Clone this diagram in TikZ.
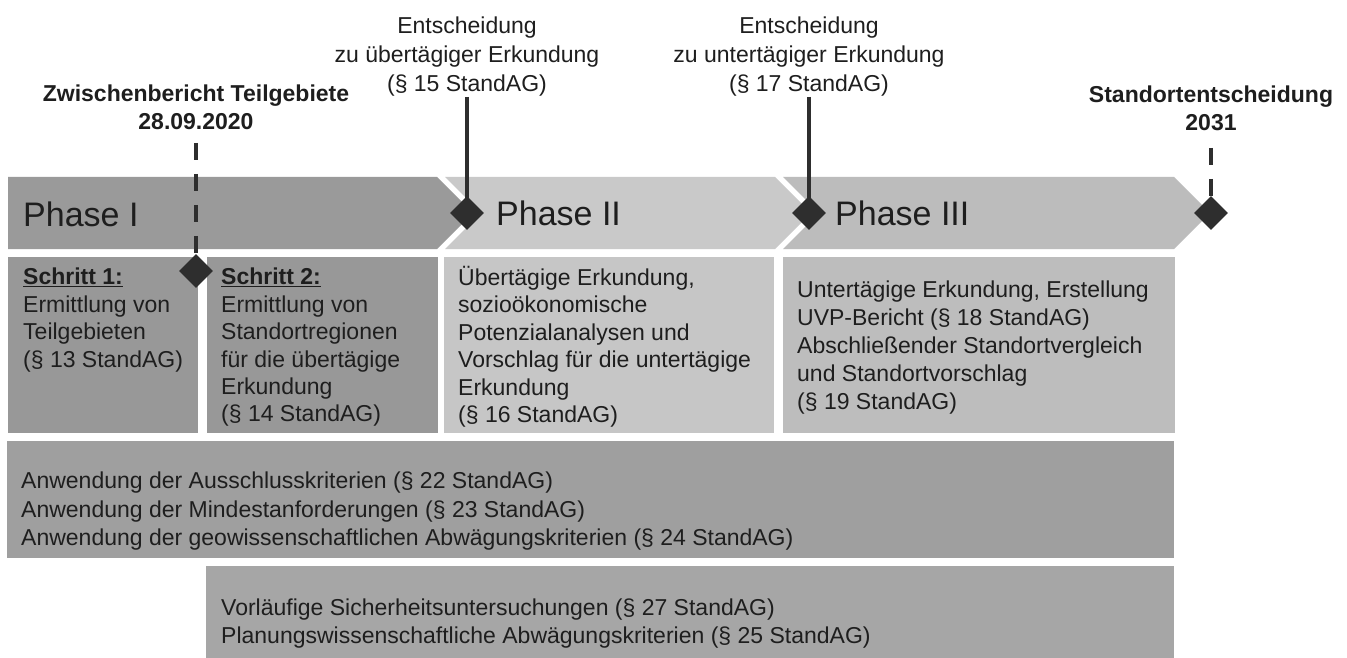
\documentclass[tikz,border=0pt]{standalone}
\usepackage{fontspec}
\setmainfont{Liberation Sans}
\usetikzlibrary{positioning,shapes.geometric}

\definecolor{inktext}{HTML}{1E1E1E}
\definecolor{inkdark}{HTML}{2E2E2E}
\definecolor{phaseone}{HTML}{9A9A9A}
\definecolor{phasetwo}{HTML}{C9C9C9}
\definecolor{phasethree}{HTML}{BCBCBC}
\definecolor{stepgray}{HTML}{989898}
\definecolor{twogray}{HTML}{C6C6C6}
\definecolor{threegray}{HTML}{BDBDBD}
\definecolor{critgray}{HTML}{9F9F9F}
\definecolor{safegray}{HTML}{A6A6A6}

\begin{document}
\begin{tikzpicture} [
	x = 1pt, y = -1pt,
	every node/.style = {inner sep=0pt, text=inktext},
	box/.style = {anchor=north west},
	body/.style = {align=left, font=\fontsize{23}{27.4}\selectfont},
	phasetitle/.style = {anchor=west, font=\fontsize{34}{40}\selectfont},
	toplabel/.style = {align=center, font=\fontsize{23}{29}\selectfont},
	keylabel/.style = {align=center, font=\bfseries\fontsize{23}{28}\selectfont},
	gate/.style = {diamond, fill=inkdark, minimum size=34pt},
	decision/.style = {draw=inkdark, line width=4pt, shorten >=-8pt},
	milestone/.style = {decision, dash pattern=on 17pt off 14pt}
]
\fill[white] (0,0) rectangle (1347,658);
\useasboundingbox (0,0) rectangle (1347,658);

\fill[phaseone] (8,177) -- (437,177) -- (473,213) -- (437,249) -- (8,249) -- cycle;
\fill[phasetwo] (445,177) -- (775,177) -- (811,213) -- (775,249) -- (445,249) -- (481,213) -- cycle;
\fill[phasethree] (783,177) -- (1174,177) -- (1210,213) -- (1174,249) -- (783,249) -- (819,213) -- cycle;

\node[phasetitle] (ph1) at (23,214) {Phase I};
\node[phasetitle] (ph2) at (496,213) {Phase II};
\node[phasetitle] (ph3) at (835,213) {Phase III};

\node[box, fill=stepgray, minimum width=190pt, minimum height=176pt] (s1) at (8,257) {};
\node[box, fill=stepgray, minimum width=231pt, minimum height=176pt] (s2) at (207,257) {};
\node[box, fill=twogray, minimum width=330pt, minimum height=176pt] (p2) at (444,257) {};
\node[box, fill=threegray, minimum width=392pt, minimum height=176pt] (p3) at (783,257) {};
\node[box, fill=critgray, minimum width=1167pt, minimum height=117pt] (crit) at (7,441) {};
\node[box, fill=safegray, minimum width=968pt, minimum height=92pt] (safe) at (206,566) {};

\node[body, below right=11pt and 15pt of s1.north west] (s1text)
	{\textbf{\underline{Schritt 1:}}\\Ermittlung von\\Teilgebieten\\(§ 13 StandAG)};
\node[body, below right=11pt and 14pt of s2.north west] (s2text)
	{\textbf{\underline{Schritt 2:}}\\Ermittlung von\\Standortregionen\\für die übertägige\\Erkundung\\(§ 14 StandAG)};
\node[body, below right=9pt and 14pt of p2.north west] (p2text)
	{Übertägige Erkundung,\\sozioökonomische\\Potenzialanalysen und\\Vorschlag für die untertägige\\Erkundung\\(§ 16 StandAG)};
\node[body, font=\fontsize{23}{28}\selectfont, below right=24pt and 14pt of p3.north west] (p3text)
	{Untertägige Erkundung, Erstellung\\UVP-Bericht (§ 18 StandAG)\\Abschließender Standortvergleich\\und Standortvorschlag\\(§ 19 StandAG)};
\node[body, font=\fontsize{23}{28.5}\selectfont, below right=31pt and 14pt of crit.north west] (crittext)
	{Anwendung der Ausschlusskriterien (§ 22 StandAG)\\Anwendung der Mindestanforderungen (§ 23 StandAG)\\Anwendung der geowissenschaftlichen Abwägungskriterien (§ 24 StandAG)};
\node[body, font=\fontsize{23}{28}\selectfont, below right=33pt and 15pt of safe.north west] (safetext)
	{Vorläufige Sicherheitsuntersuchungen (§ 27 StandAG)\\Planungswissenschaftliche Abwägungskriterien (§ 25 StandAG)};

\node[gate] (d1) at (196,271) {};
\node[gate] (d2) at (467,213) {};
\node[gate] (d3) at (809,213) {};
\node[gate] (d4) at (1211,213) {};

\node[keylabel, above=124pt of d1] (zb) {Zwischenbericht Teilgebiete\\28.09.2020};
\node[toplabel, above=99pt of d2] (e1) {Entscheidung\\zu übertägiger Erkundung\\(§ 15 StandAG)};
\node[toplabel, above=99pt of d3] (e2) {Entscheidung\\zu untertägiger Erkundung\\(§ 17 StandAG)};
\node[keylabel, above=65pt of d4] (se) {Standortentscheidung\\2031};

\draw[milestone, shorten <=13pt] (zb) -- (d1);
\draw[decision] (e1) -- (d2);
\draw[decision] (e2) -- (d3);
\draw[milestone, shorten <=17pt] (se) -- (d4);
\end{tikzpicture}
\end{document}
